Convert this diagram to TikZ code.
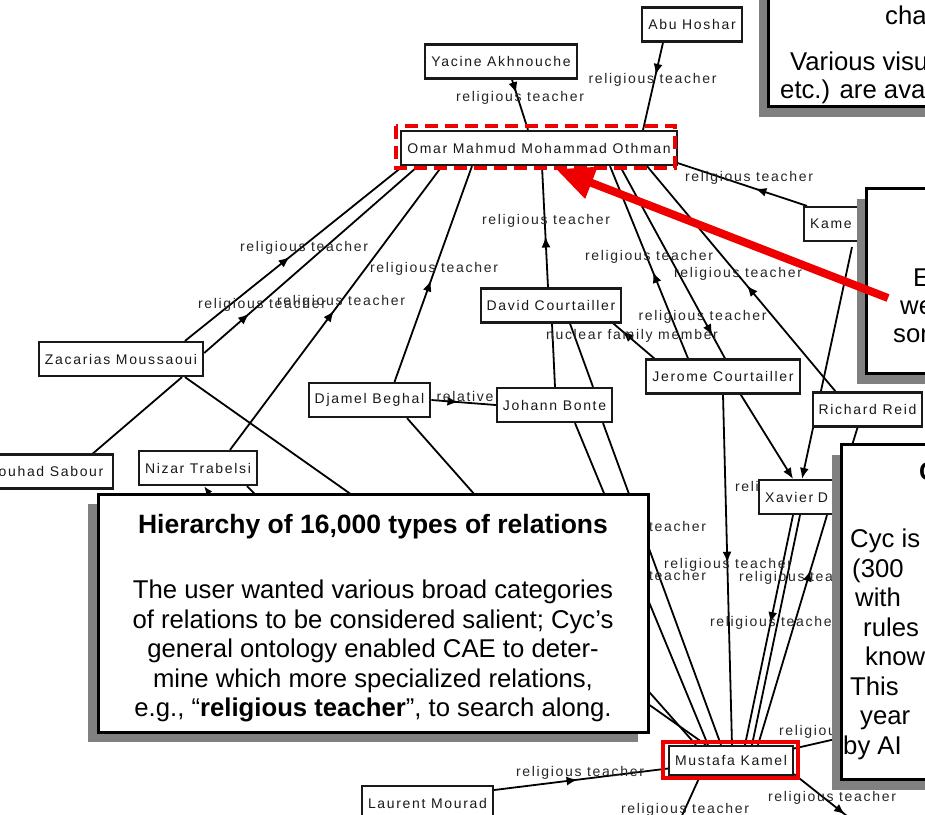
\documentclass[tikz,border=0pt]{standalone}
\usepackage{fontspec}
\usetikzlibrary{arrows.meta,decorations.markings,shadows}
\newfontfamily\graphfont[LetterSpace=12]{Liberation Sans}
\newfontfamily\notefont{Liberation Sans}
\definecolor{shadowgray}{RGB}{128,128,128}
\definecolor{notered}{RGB}{238,0,0}
\pgfdeclarelayer{bg}
\pgfdeclarelayer{back}
\pgfsetlayers{bg,back,main}
\begin{document}
\begin{tikzpicture}[x=1pt, y=-1pt,
  person/.style = {draw=black!90, line width=2.2pt, fill=white, text=black!90,
    font=\graphfont\fontsize{14}{16}\selectfont, minimum height=34pt, inner xsep=6pt, inner ysep=2pt},
  rellabel/.style = {text=black!85, font=\graphfont\fontsize{14}{16}\selectfont, inner sep=0pt},
  link/.style = {draw=black, line width=1.8pt},
  midarrow/.style = {postaction={decorate}, decoration={markings,
    mark=at position #1 with {\arrow{Latex[length=11pt,width=9pt]}}}},
  notebox/.style = {draw=black, line width=3pt, fill=white,
    drop shadow={shadow xshift=-10pt, shadow yshift=-10pt, opacity=1, fill=shadowgray}},
  notetext/.style = {font=\notefont\fontsize{25.7}{29.5}\selectfont, text=black, inner sep=0pt},
  redframe/.style = {draw=notered, line width=3.5pt},
  bigarrow/.style = {draw=notered, line width=8pt, -{Triangle[length=38pt,width=32pt]}}]

\useasboundingbox (0,0) rectangle (925,814);
\begin{pgfonlayer}{bg}
\fill[white] (0,0) rectangle (925,814);
\end{pgfonlayer}

\node[person] (abu) at (692,24.5) {Abu Hoshar};
\node[person] (yacine) at (501,61.5) {Yacine Akhnouche};
\node[person] (omar) at (539,148) {Omar Mahmud Mohammad Othman};
\node[person, anchor=west, text width=96pt, align=left] (kame) at (803,224) {Kame};
\node[person] (david) at (551,305.5) {David Courtailler};
\node[person] (zacarias) at (121,359) {Zacarias Moussaoui};
\node[person] (jerome) at (723,376.5) {Jerome Courtailler};
\node[person] (djamel) at (369.5,400) {Djamel Beghal};
\node[person] (johann) at (554.5,405) {Johann Bonte};
\node[person] (richard) at (867.5,409.5) {Richard Reid};
\node[person, inner xsep=10pt] (fouhad) at (51,471.5) {ouhad Sabour};
\node[person] (nizar) at (198,468) {Nizar Trabelsi};
\node[person, anchor=west, text width=96pt, align=left] (xavier) at (758,497) {Xavier D};
\node[person, minimum height=29pt] (mustafa) at (731,760.5) {Mustafa Kamel};
\node[person] (laurent) at (427.5,803) {Laurent Mourad};

\coordinate (richardout) at (850,452);
\coordinate (cycout) at (840,738);
\coordinate (offright) at (852,820);
\coordinate (offbottom) at (680,820);
\coordinate (nizarin) at (236,530);
\coordinate (nizarout) at (290,530);

\begin{pgfonlayer}{back}
\draw[link, midarrow=0.27] ([xshift=11pt]yacine.south) -- ([xshift=-11pt]omar.north);
\draw[link, midarrow=0.37] ([xshift=-29pt]abu.south) -- ([xshift=104pt]omar.north);
\draw[link, midarrow=0.4] ([xshift=4pt]kame.north west) -- ([yshift=3pt]omar.south east);
\draw[link, midarrow=0.42] ([xshift=-3pt]david.north) -- ([xshift=3pt]omar.south);
\draw[link, midarrow=0.45] ([xshift=-35pt]jerome.north) -- ([xshift=71pt]omar.south);
\draw[link, midarrow=0.88] ([xshift=81pt]omar.south) -- ([xshift=2pt]jerome.north);
\draw[link, midarrow=0.47] ([xshift=-32pt]richard.north) -- ([xshift=108pt]omar.south);
\draw[link, midarrow=0.48] ([xshift=64pt]zacarias.north) -- ([xshift=-136pt]omar.south);
\draw[link, midarrow=0.21] ([yshift=6pt]zacarias.east) -- ([xshift=-121pt]omar.south);
\draw[link, midarrow=0.49] ([xshift=32pt]nizar.north) -- ([xshift=-97pt]omar.south);
\draw[link, midarrow=0.47] ([xshift=25pt]djamel.north) -- ([xshift=-67pt]omar.south);

\draw[link, midarrow=0.78] ([xshift=9pt]jerome.north west) -- ([xshift=-9pt]david.south east);
\draw[link, midarrow=0.42] (djamel.east) -- (johann.west);
\draw[link] ([xshift=1pt]david.south) -- ([xshift=0.5pt]johann.north);
\draw[link] ([xshift=19pt]david.south) -- ([xshift=38.5pt]johann.north);
\draw[link] ([xshift=20.5pt]johann.south) -- ([xshift=-23pt]mustafa.north);
\draw[link] ([xshift=48.5pt]johann.south) -- ([xshift=-10pt]mustafa.north);
\draw[link] ([xshift=37.5pt]djamel.south) -- ([xshift=-35pt]mustafa.north);
\draw[link] ([xshift=64pt]zacarias.south) -- ([xshift=-25pt]mustafa.north);
\draw[link] ([xshift=61pt]zacarias.south) -- ([xshift=42pt]fouhad.north);
\draw[link, -{Latex[length=9pt,width=7pt]}] (nizarin) -- ([xshift=6pt]nizar.south);
\draw[link] ([xshift=49pt]nizar.south) -- (nizarout);
\draw[link, midarrow=0.48] (jerome.south) -- ([xshift=1pt]mustafa.north);
\draw[link, -{Latex[length=11pt,width=9pt]}] ([xshift=-60pt]jerome.south east) -- ([xshift=35pt]xavier.north west);
\draw[link, -{Latex[length=11pt,width=9pt]}] ([xshift=49pt,yshift=-5pt]kame.south west) -- ([xshift=44pt]xavier.north west);
\draw[link, midarrow=0.47] ([xshift=35pt]xavier.south west) -- ([xshift=14pt]mustafa.north);
\draw[link] ([xshift=42pt]xavier.south west) -- ([xshift=21pt]mustafa.north);
\draw[link, midarrow=0.76] ([xshift=27pt]mustafa.north) -- ([xshift=69pt]xavier.south west);
\draw[link] ([xshift=-10pt]richard.south) -- (richardout);
\draw[link] ([yshift=12pt]mustafa.east) -- (cycout);
\draw[link, midarrow=0.88] ([yshift=2pt]mustafa.south east) -- (offright);
\draw[link] ([xshift=-31pt]mustafa.south) -- (offbottom);
\draw[link, midarrow=0.48] ([yshift=13pt]laurent.east) -- ([yshift=-8pt]mustafa.west);

\node[rellabel] (r1) at (520,98) {religious teacher};
\node[rellabel] (r2) at (652.5,80) {religious teacher};
\node[rellabel] (r3) at (749,178) {religious teacher};
\node[rellabel] (r4) at (546,221) {religious teacher};
\node[rellabel] (r5) at (649,257) {religious teacher};
\node[rellabel] (r6) at (738,274) {religious teacher};
\node[rellabel] (r7) at (702.5,317) {religious teacher};
\node[rellabel] (r8) at (304,248) {religious teacher};
\node[rellabel] (r9) at (262,305) {religious teacher};
\node[rellabel] (r10) at (341,302) {religious teacher};
\node[rellabel] (r11) at (434,269) {religious teacher};
\node[rellabel] (r12) at (632,336) {nuclear family member};
\node[rellabel] (r13) at (465,396) {relative};
\node[rellabel] (r14) at (799,488) {religious teacher};
\node[rellabel] (r15) at (642,528) {religious teacher};
\node[rellabel] (r16) at (728,565) {religious teacher};
\node[rellabel] (r17) at (642,577) {religious teacher};
\node[rellabel] (r18) at (803,578) {religious teacher};
\node[rellabel] (r19) at (774,623) {religious teacher};
\node[rellabel] (r20) at (843,732) {religious teacher};
\node[rellabel] (r21) at (832,798) {religious teacher};
\node[rellabel] (r22) at (685,810) {religious teacher};
\node[rellabel] (r23) at (580,773) {religious teacher};
\end{pgfonlayer}

\node[notebox, anchor=south west, minimum width=250pt, minimum height=170pt] (viewbox) at (767,108) {};
\node[notebox, anchor=north west, minimum width=200pt, minimum height=185pt] (findbox) at (865,187) {};
\node[notebox, anchor=north west, minimum width=200pt, minimum height=335pt] (cycbox) at (840,443) {};
\node[notebox, minimum width=550pt, minimum height=238pt] (relbox) at (373,613) {};

\node[notetext, anchor=base west] (view1) at (885,24) {cha};
\node[notetext, anchor=base west] (view2) at (790,70) {Various visu};
\node[notetext, anchor=base west] (view3) at (780,98) {etc.) are ava};

\node[notetext, anchor=base west] (find1) at (913,286) {E};
\node[notetext, anchor=base west] (find2) at (900,314) {we};
\node[notetext, anchor=base west] (find3) at (893,342) {son};

\node[notetext, anchor=base west] (cyc0) at (919,480) {\bfseries C};
\node[notetext, anchor=base west] (cyc1) at (850,547.5) {Cyc is};
\node[notetext, anchor=base west] (cyc2) at (852,577) {(300};
\node[notetext, anchor=base west] (cyc3) at (855,606.5) {with};
\node[notetext, anchor=base west] (cyc4) at (863,636) {rules};
\node[notetext, anchor=base west] (cyc5) at (865,665.5) {know};
\node[notetext, anchor=base west] (cyc6) at (850,695) {This};
\node[notetext, anchor=base west] (cyc7) at (860,724.5) {year};
\node[notetext, anchor=base west] (cyc8) at (843,754) {by AI};

\node[notetext, align=center] (reltext) at (373,618) {{\bfseries\fontsize{26.5}{29.5}\selectfont Hierarchy of 16,000 types of relations}\\[36pt]
The user wanted various broad categories\\
of relations to be considered salient; Cyc’s\\
general ontology enabled CAE to deter-\\
mine which more specialized relations,\\
e.g., “\textbf{religious teacher}”, to search along.};

\draw[redframe, line width=4pt, dash pattern=on 13pt off 7pt] ([xshift=-4pt,yshift=4pt]omar.north west) rectangle ([xshift=-3pt,yshift=-2pt]omar.south east);
\draw[redframe] ([xshift=-5pt,yshift=3pt]mustafa.north west) rectangle ([xshift=4pt,yshift=-2pt]mustafa.south east);
\coordinate (pointer) at (888,298);
\draw[bigarrow] (pointer) -- ([xshift=17pt,yshift=-3pt]omar.south);

\end{tikzpicture}
\end{document}
